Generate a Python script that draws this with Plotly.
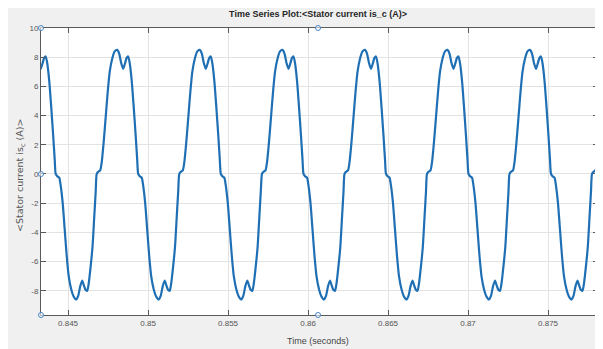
import numpy as np
import plotly.graph_objects as go

# One period of the stator current waveform
# (offset from the rising zero-plateau in milliseconds, current in A)
cycle_offset_ms = [0.000, 0.094, 0.219, 0.313, 0.438, 0.563, 0.688, 0.813, 0.969, 1.125,
                   1.281, 1.406, 1.531, 1.656, 1.750, 1.875, 1.969, 2.063, 2.188, 2.313,
                   2.438, 2.531, 2.594, 2.688, 2.813, 2.906, 3.031, 3.156, 3.281, 3.406,
                   3.563, 3.719, 3.875, 4.000, 4.125, 4.250, 4.344, 4.469, 4.563, 4.656,
                   4.781, 4.894, 5.000, 5.094]
cycle_current = [0.0, 0.15, 0.25, 0.8, 2.2, 3.9, 5.6, 7.0, 7.9, 8.4,
                 8.5, 8.25, 7.6, 7.2, 7.5, 7.95, 8.05, 7.6, 6.4, 4.6,
                 2.6, 1.0, 0.0, -0.15, -0.25, -0.8, -2.0, -3.8, -5.6, -7.0,
                 -7.9, -8.4, -8.6, -8.35, -7.7, -7.3, -7.6, -7.95, -8.0, -7.5,
                 -6.3, -5.0, -3.0, -1.2]
# start time (s) of each cycle, read from the rising zero plateaus
cycle_start_s = [0.841635, 0.846791, 0.851954, 0.857123, 0.862279,
                 0.867435, 0.872591, 0.877748]

x_tick_vals = [0.845, 0.85, 0.855, 0.86, 0.865, 0.87, 0.875]
x_tick_text = ["0.845", "0.85", "0.855", "0.86", "0.865", "0.87", "0.875"]
y_tick_vals = [10, 8, 6, 4, 2, 0, -2, -4, -6, -8]
y_tick_text = ["10", "8", "6", "4", "2", "0", "-2", "-4", "-6", "-8"]

t_all, i_all = [], []
off = np.array(cycle_offset_ms) / 1000.0
for s in cycle_start_s:
    t_all.extend(list(s + off))
    i_all.extend(cycle_current)

fig = go.Figure()
fig.add_trace(go.Scatter(x=t_all, y=i_all, mode="lines",
                         line=dict(color="#1f6fb4", width=2.2, shape="spline", smoothing=0.6),
                         hoverinfo="skip", showlegend=False))

# the page body has an 8px margin; the figure starts at window (8, 8)
OFF = 8
W, H = 603 - OFF, 349 - OFF
ml, mr, mt, mb = 41 - OFF, 5, 28 - OFF, 34
pw, ph = W - ml - mr, H - mt - mb

def px_x(p):  # window pixel -> paper x
    return (p - OFF - ml) / pw

def px_y(p):  # window pixel -> paper y
    return (H - mb - (p - OFF)) / ph

shapes = []
handles = [(41, 28), (318, 28), (598, 28), (41, 315), (318, 315), (598, 315), (41, 174), (598, 174)]
for hx, hy in handles:
    shapes.append(dict(type="circle", xref="paper", yref="paper",
                       xsizemode="pixel", ysizemode="pixel",
                       xanchor=px_x(hx), yanchor=px_y(hy),
                       x0=-2.5, x1=2.5, y0=-2.5, y1=2.5,
                       line=dict(color="#4a86c5", width=1), fillcolor="rgba(255,255,255,0.6)"))

axis_common = dict(showline=True, linecolor="#5a5a5a", linewidth=1, mirror="ticks",
                   ticks="inside", ticklen=5, tickcolor="#5a5a5a",
                   showgrid=True, gridcolor="#e3e3e3", gridwidth=1, zeroline=False,
                   tickfont=dict(family="Liberation Sans Narrow, Arial Narrow, sans-serif", size=8, color="#555555"))

fig.update_layout(
    width=W, height=H,
    margin=dict(l=ml, r=mr, t=mt, b=mb),
    paper_bgcolor="#f0f0f0", plot_bgcolor="white",
    title=dict(text="<b>Time Series Plot:&lt;Stator current is_c (A)&gt;</b>",
               x=px_x(318), xref="paper", xanchor="center", y=1 - (14 - OFF) / H, yanchor="middle",
               font=dict(family="Liberation Sans Narrow, Arial Narrow, sans-serif", size=9, color="#262626")),
    xaxis=dict(range=[0.84331, 0.878123], tickvals=x_tick_vals, ticktext=x_tick_text, **axis_common),
    yaxis=dict(range=[-9.66, 10], tickvals=y_tick_vals, ticktext=y_tick_text, **axis_common),
    shapes=shapes,
    annotations=[
        dict(text="Time (seconds)", xref="paper", yref="paper", x=px_x(318), y=px_y(341),
             showarrow=False, xanchor="center", yanchor="middle",
             font=dict(family="Liberation Sans Narrow, Arial Narrow, sans-serif", size=9, color="#444444")),
        dict(text="&lt;Stator current is<sub>c</sub> (A)&gt;", xref="paper", yref="paper",
             x=px_x(20), y=px_y(176), textangle=-90, showarrow=False,
             xanchor="center", yanchor="middle",
             font=dict(family="DejaVu Sans, sans-serif", size=9.5, color="#555555")),
    ],
)

fig.write_html("out.html")
